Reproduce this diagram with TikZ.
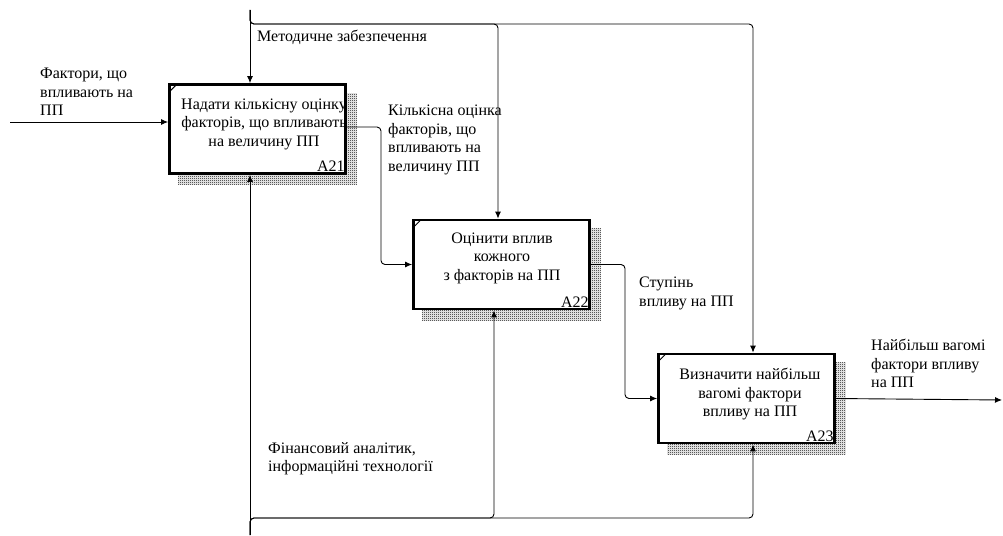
\documentclass[tikz,border=0pt]{standalone}
\usepackage{fontspec}
\setmainfont{Liberation Serif}
\usetikzlibrary{arrows.meta,calc,patterns,backgrounds}

% fine dithered fill used for the drop shadows of the function boxes
\pgfdeclarepatternformonly{idefshade}{\pgfpointorigin}{\pgfpoint{2pt}{2pt}}{\pgfpoint{2pt}{2pt}}{%
  \pgfpathrectangle{\pgfpointorigin}{\pgfpoint{1pt}{1pt}}%
  \pgfpathrectangle{\pgfpoint{1pt}{1pt}}{\pgfpoint{1pt}{1pt}}%
  \pgfusepath{fill}}

\begin{document}
\begin{tikzpicture}[x=1pt,y=-1pt,
  every node/.style={font=\fontsize{16}{18.5}\selectfont},
  func/.style={draw, line width=2.8pt, fill=white, minimum width=176pt,
               minimum height=89pt, inner sep=0pt},
  ftext/.style={align=center, inner sep=0pt},
  lbl/.style={align=left, anchor=north west, inner sep=0pt},
  fid/.style={anchor=south east, inner sep=1pt},
  conn/.style={line width=0.9pt, rounded corners=4pt},
  arr/.style={-{Latex[length=7pt,width=6pt]}},
  shade/.style={pattern=idefshade, pattern color=black}]

\useasboundingbox (0,0) rectangle (1003,535);

% function boxes
\node[func] (a21) at (257.5,129) {};
\node[func] (a22) at (501.5,264.5) {};
\node[func] (a23) at (746.5,398.5) {};

% drop shadows
\begin{scope}[on background layer]
  \foreach \b in {a21,a22,a23}
    \fill[shade] ($(\b.north west)+(10,10)$) rectangle ($(\b.south east)+(10,10)$);
\end{scope}

% corner marks
\foreach \b in {a21,a22,a23}
  \draw[line width=1pt] ($(\b.north west)+(1,9)$) -- ($(\b.north west)+(9,1)$);

% box texts
\node[ftext] (t21) at (264,124) {Надати кількісну оцінку\\факторів, що впливають\\на величину ПП};
\node[ftext] (t22) at (502,258) {Оцінити вплив\\кожного\\з факторів на ПП};
\node[ftext] (t23) at (750,394) {Визначити найбільш\\вагомі фактори\\впливу на ПП};

% box numbers
\node[fid] (n21) at ($(a21.south east)+(-1,-2)$) {A21};
\node[fid] (n22) at ($(a22.south east)+(-1,-2)$) {A22};
\node[fid] (n23) at ($(a23.south east)+(-1,-2)$) {A23};

% free ends of the boundary arrows
\coordinate (in)   at (10,122);
\coordinate (out)  at (1002,400);
\coordinate (ctop) at (250,10);
\coordinate (c22)  at (498,24);
\coordinate (c23)  at (753,24);
\coordinate (cbot) at (250,535);
\coordinate (m22)  at (494,518);
\coordinate (m23)  at (753,518);

% input
\draw[conn,arr] (in) -- (in -| a21.west);

% controls
\draw[conn,arr] (ctop) -- (ctop |- a21.north);
\draw[conn,arr] (ctop) |- (c22) -- (c22 |- a22.north);
\draw[conn,arr] (ctop) |- (c23) -- (c23 |- a23.north);

% mechanisms
\draw[conn,arr] (cbot) -- (cbot |- a21.south);
\draw[conn,arr] (cbot) |- (m22) -- (m22 |- a22.south);
\draw[conn,arr] (cbot) |- (m23) -- (m23 |- a23.south);

% flows between functions
\draw[conn,arr] ($(a21.east)+(0,-2)$) -| (381,200) |- (a22.west);
\draw[conn,arr] (a22.east) -| (625,330) |- (a23.west);
\draw[conn,arr] (a23.east) -- (out);

% arrow labels
\node[lbl] (lctl) at (257,30) {Методичне забезпечення};
\node[lbl] (lin)  at (40,68) {Фактори, що\\впливають на\\ПП};
\node[lbl] (l12)  at (388,105) {Кількісна оцінка\\факторів, що\\впливають на\\величину ПП};
\node[lbl] (l23)  at (639,277) {Ступінь\\впливу на ПП};
\node[lbl] (lout) at (871,339) {Найбільш вагомі\\фактори впливу\\на ПП};
\node[lbl] (lmec) at (268,442) {Фінансовий аналітик,\\інформаційні технології};

\end{tikzpicture}
\end{document}
